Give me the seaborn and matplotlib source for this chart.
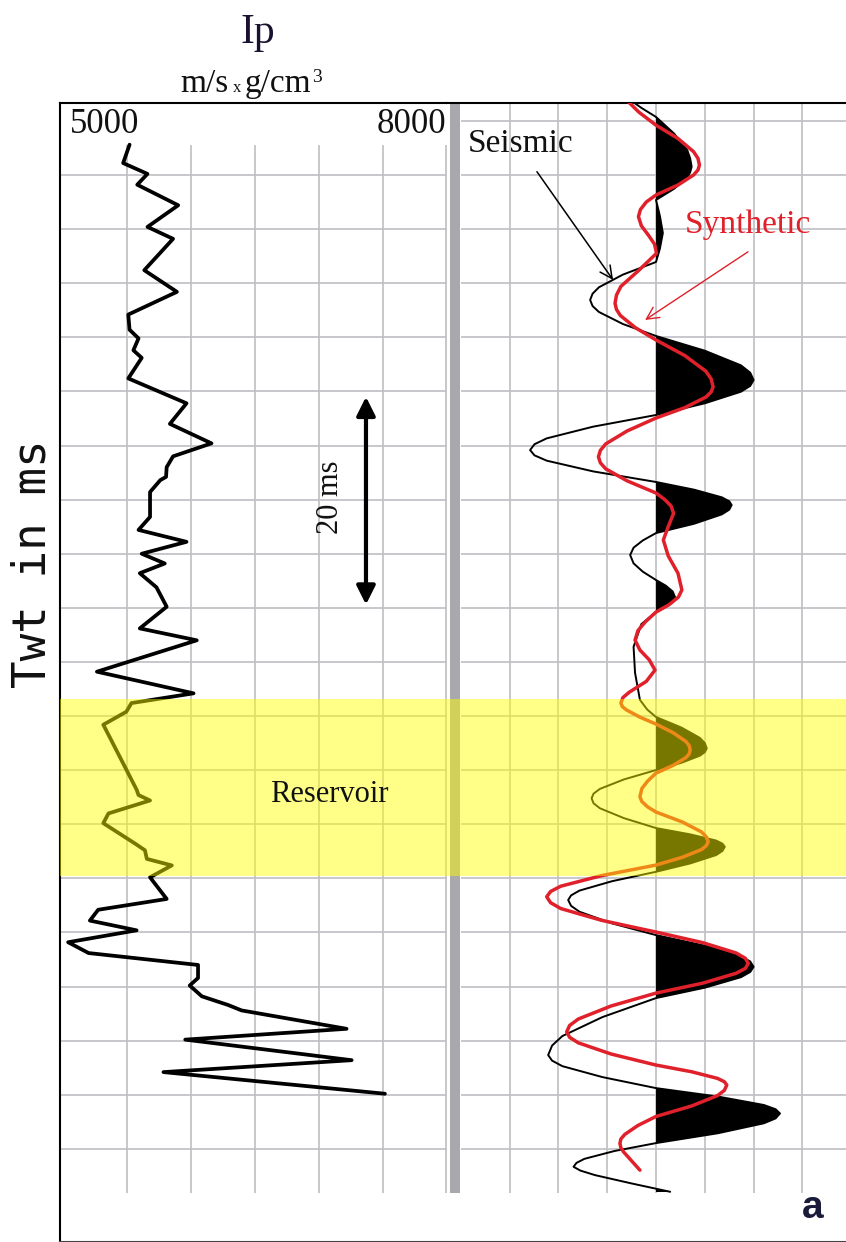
import numpy as np
import pandas as pd
import matplotlib
matplotlib.use("Agg")
import matplotlib.pyplot as plt
import seaborn as sns

# ---------------- data ----------------
# Acoustic impedance log (two-way time in ms, Ip in m/s x g/cm3)
ip_time = [7.2, 8.9, 9.9, 10.9, 12.8, 14.8, 15.9, 18.8, 20.8, 22.9,
           24.3, 25.1, 26.2, 26.9, 28.8, 31.1, 33.0, 34.8, 36.0, 37.0,
           37.9, 38.2, 39.3, 41.6, 42.8, 43.9, 45.0, 45.9, 46.8, 48.1,
           49.9, 51.9, 53.0, 55.9, 57.9, 58.8, 59.6, 60.8, 66.8, 67.3,
           67.8, 69.0, 69.9, 71.8, 72.4, 73.2, 73.8, 74.9, 76.9, 77.9,
           78.9, 79.8, 80.9, 81.9, 83.0, 84.2, 84.9, 85.9, 86.7, 87.2,
           88.9, 89.9, 91.8, 92.9, 94.9]
ip_vals = [5520, 5470, 5660, 5580, 5900, 5660, 5860, 5635, 5890, 5510,
           5520, 5590, 5550, 5615, 5510, 5965, 5835, 6160, 5860, 5810,
           5805, 5760, 5680, 5680, 5590, 5965, 5615, 5795, 5600, 5730,
           5810, 5600, 6045, 5265, 6020, 5535, 5495, 5315, 5575, 5590,
           5680, 5355, 5315, 5565, 5640, 5655, 5850, 5680, 5810, 5275,
           5210, 5575, 5040, 5200, 6055, 6055, 5990, 6085, 6290, 6395,
           7215, 5955, 7255, 5785, 7515]

# Seismic trace: (time ms, amplitude in grid units)
seis_points = [
    (3.0, -0.55), (3.8, -0.30), (4.64, 0.0), (6.17, 0.37), (7.70, 0.64),
    (8.47, 0.70), (9.23, 0.73), (9.75, 0.70), (10.26, 0.64), (11.28, 0.37),
    (12.31, 0.0), (13.8, 0.08), (15.36, 0.14), (16.8, 0.08), (18.04, 0.0),
    (19.21, -0.68), (20.38, -1.17), (20.97, -1.30), (21.55, -1.35), (22.11, -1.30),
    (22.66, -1.17), (23.77, -0.68), (24.88, 0.0), (26.24, 1.0), (27.59, 1.74),
    (28.27, 1.93), (28.95, 2.0), (29.49, 1.93), (30.03, 1.74), (31.10, 1.0),
    (32.18, 0.0), (33.26, -1.29), (34.34, -2.24), (34.88, -2.49), (35.42, -2.58),
    (35.91, -2.49), (36.40, -2.24), (37.39, -1.29), (38.37, 0.0), (39.08, 0.78),
    (39.79, 1.35), (40.15, 1.50), (40.5, 1.55), (40.93, 1.50), (41.36, 1.35),
    (42.23, 0.78), (43.09, 0.0), (43.77, -0.27), (44.44, -0.46), (45.12, -0.53),
    (45.89, -0.46), (46.66, -0.27), (47.43, 0.0), (47.95, 0.20), (48.48, 0.34),
    (49.0, 0.39), (49.46, 0.34), (49.93, 0.20), (50.39, 0.0), (51.5, -0.30),
    (53.6, -0.46), (56.0, -0.43), (58.5, -0.33), (59.4, -0.18), (60.09, 0.0),
    (61.06, 0.52), (62.02, 0.90), (62.5, 1.0), (62.99, 1.04), (63.33, 1.0),
    (63.66, 0.90), (64.32, 0.52), (64.99, 0.0), (65.86, -0.66), (66.73, -1.15),
    (67.17, -1.28), (67.6, -1.32), (68.06, -1.28), (68.52, -1.15), (69.43, -0.66),
    (70.35, 0.0), (70.93, 0.70), (71.50, 1.23), (71.79, 1.36), (72.08, 1.41),
    (72.47, 1.36), (72.85, 1.23), (73.62, 0.70), (74.39, 0.0), (75.26, -0.90),
    (76.13, -1.57), (76.57, -1.74), (77.0, -1.80), (77.54, -1.74), (78.08, -1.57),
    (79.16, -0.90), (80.24, 0.0), (81.22, 1.0), (82.19, 1.74), (82.68, 1.93),
    (83.17, 2.0), (83.65, 1.93), (84.13, 1.74), (85.10, 1.0), (86.06, 0.0),
    (87.82, -1.10), (89.57, -1.92), (90.45, -2.13), (91.33, -2.21), (91.84, -2.13),
    (92.35, -1.92), (93.36, -1.10), (94.38, 0.0), (95.16, 1.27), (95.94, 2.21),
    (96.33, 2.45), (96.72, 2.54), (97.18, 2.45), (97.63, 2.21), (98.55, 1.27),
    (99.46, 0.0), (100.19, -0.85), (100.92, -1.47), (101.29, -1.63), (101.65, -1.69),
    (102.0, -1.55), (102.42, -1.25), (103.19, -0.50), (103.96, 0.29),
]

# Synthetic trace: (time ms, amplitude in grid units)
syn_points = [
    (3.0, -0.62), (4.2, -0.35), (5.4, 0.0), (6.63, 0.45), (7.85, 0.77),
    (8.47, 0.86), (9.08, 0.89), (9.54, 0.86), (10.0, 0.77), (10.93, 0.45),
    (11.85, 0.0), (12.5, -0.20), (13.2, -0.32), (13.85, -0.36), (14.7, -0.30),
    (15.6, -0.15), (16.4, -0.03), (17.24, 0.01), (18.8, -0.35), (20.3, -0.72),
    (21.1, -0.81), (21.86, -0.84), (22.43, -0.81), (22.99, -0.73), (24.12, -0.42),
    (25.25, 0.0), (26.69, 0.59), (28.13, 1.02), (28.85, 1.13), (29.57, 1.17),
    (30.05, 1.13), (30.53, 1.02), (31.5, 0.59), (32.46, 0.0), (33.65, -0.59),
    (34.85, -1.03), (35.45, -1.14), (36.04, -1.18), (36.6, -1.14), (37.16, -1.03),
    (38.27, -0.59), (39.39, 0.0), (40.0, 0.18), (40.6, 0.31), (41.27, 0.36),
    (42.5, 0.25), (43.73, 0.15), (45.2, 0.25), (46.8, 0.45), (48.35, 0.53),
    (49.0, 0.46), (49.7, 0.27), (50.39, 0.0), (51.3, -0.22), (52.1, -0.37),
    (52.98, -0.43), (53.9, -0.33), (54.8, -0.14), (55.75, -0.02), (56.8, -0.20),
    (57.8, -0.55), (58.3, -0.68), (58.8, -0.72), (59.13, -0.69), (59.45, -0.60),
    (60.1, -0.33), (60.74, 0.0), (61.54, 0.35), (62.34, 0.61), (62.74, 0.68),
    (63.14, 0.70), (63.5, 0.68), (63.85, 0.61), (64.56, 0.35), (65.27, 0.0),
    (66.0, -0.17), (66.7, -0.29), (67.46, -0.33), (67.9, -0.29), (68.4, -0.17),
    (68.87, 0.0), (69.79, 0.54), (70.7, 0.93), (71.16, 1.03), (71.62, 1.07),
    (71.98, 1.03), (72.34, 0.93), (73.05, 0.54), (73.77, 0.0), (74.75, -1.12),
    (75.72, -1.95), (76.21, -2.16), (76.70, -2.24), (77.25, -2.16), (77.79, -1.95),
    (78.87, -1.12), (79.96, 0.0), (80.93, 0.95), (81.89, 1.64), (82.38, 1.83),
    (82.86, 1.89), (83.32, 1.83), (83.77, 1.64), (84.69, 0.95), (85.6, 0.0),
    (86.79, -0.92), (87.99, -1.59), (88.59, -1.77), (89.18, -1.83), (89.69, -1.77),
    (90.2, -1.59), (91.23, -0.92), (92.25, 0.0), (92.87, 0.73), (93.48, 1.26),
    (93.79, 1.40), (94.10, 1.45), (94.59, 1.40), (95.07, 1.26), (96.03, 0.73),
    (97.0, 0.0), (97.83, -0.37), (98.66, -0.64), (99.08, -0.72), (99.49, -0.74),
    (99.9, -0.72), (100.3, -0.66), (101.1, -0.50), (101.96, -0.33),
]

reservoir = (58.4, 74.8)
ip_ticklabels = ["5000", "8000"]

seis_t = [p[0] for p in seis_points]
seis_a = [p[1] for p in seis_points]
syn_t = [p[0] for p in syn_points]
syn_a = [p[1] for p in syn_points]

# ---------------- style ----------------
sns.set_theme(style="white")
plt.rcParams["font.family"] = ["Liberation Serif", "DejaVu Serif"]

W, H = 846, 1242
fig = plt.figure(figsize=(W / 100, H / 100), dpi=100)
fig.patch.set_facecolor("white")

T_TOP, T_BOT = 3.35, 108.6
GRID_END = 104.1
grid_col = "#bfbfc4"
red = "#e0202a"

axL = fig.add_axes([60 / W, 0, 387 / W, 1139 / H])
axR = fig.add_axes([447 / W, 0, 399 / W, 1139 / H])

for ax in (axL, axR):
    ax.set_facecolor("white")
    for s in ax.spines.values():
        s.set_linewidth(1.5)
        s.set_color("black")
    ax.spines["right"].set_visible(False)
    ax.spines["bottom"].set_color("#444444")
axR.spines["left"].set_visible(False)

XL = (4976.6, 8000)
XR = (-4.283, 3.893)

# grids
grid_t = np.arange(10, 101, 5)
axL.vlines([5500, 6000, 6500, 7000, 7500, 7990], 7.2, GRID_END,
           color=grid_col, lw=1.2, zorder=0.5)
axL.hlines(grid_t, XL[0], XL[1], color=grid_col, lw=1.2, zorder=0.5)
axR.vlines([-3, -2, -1, 0, 1, 2, 3], T_TOP, GRID_END, color=grid_col, lw=1.2, zorder=0.5)
axR.hlines(np.arange(5, 101, 5), -4.0, XR[1], color=grid_col, lw=1.2, zorder=0.5)
# gray separator
axR.fill_betweenx([T_TOP, GRID_END], -4.22, -4.016, color="#a8a8ad", lw=0, zorder=1)

# Ip log
df_ip = pd.DataFrame({"Ip": ip_vals, "t": ip_time})
sns.lineplot(data=df_ip, x="Ip", y="t", sort=False, estimator=None,
             color="black", linewidth=2.7, ax=axL, zorder=3,
             solid_joinstyle="round", solid_capstyle="round")

# seismic + synthetic
sa = np.array(seis_a)
st = np.array(seis_t)
axR.fill_betweenx(st, 0, sa, where=sa > 0, interpolate=True, color="black", lw=0, zorder=2)
df_s = pd.DataFrame({"a": seis_a, "t": seis_t})
sns.lineplot(data=df_s, x="a", y="t", sort=False, estimator=None,
             color="black", linewidth=1.4, ax=axR, zorder=3,
             solid_joinstyle="round", solid_capstyle="round")
df_y = pd.DataFrame({"a": syn_a, "t": syn_t})
sns.lineplot(data=df_y, x="a", y="t", sort=False, estimator=None,
             color=red, linewidth=2.5, ax=axR, zorder=4,
             solid_joinstyle="round", solid_capstyle="round")

for ax, xl in ((axL, XL), (axR, XR)):
    ax.set_xlim(*xl)
    ax.set_ylim(T_BOT, T_TOP)
    ax.set_xticks([])
    ax.set_yticks([])
    ax.set_xlabel("")
    ax.set_ylabel("")
    ax.axhspan(reservoir[0], reservoir[1], color="#ffff00", alpha=0.47, lw=0, zorder=5)

# 20 ms double arrow
axL.annotate("", xy=(7367, 30.5), xytext=(7367, 49.7),
             arrowprops=dict(arrowstyle="<|-|>", color="black", lw=3,
                             mutation_scale=28, shrinkA=0, shrinkB=0), zorder=6)

# label arrows
axR.annotate("", xy=(-0.88, 19.7), xytext=(-2.44, 9.7),
             arrowprops=dict(arrowstyle="->", color="black", lw=1.1,
                             mutation_scale=22, shrinkA=0, shrinkB=0), zorder=6)
axR.annotate("", xy=(-0.225, 23.4), xytext=(1.885, 17.1),
             arrowprops=dict(arrowstyle="->", color=red, lw=1.0,
                             mutation_scale=22, shrinkA=0, shrinkB=0), zorder=6)


def fx(px):
    return px / W


def fy(py):
    return 1 - py / H


fig.text(fx(258), fy(43), "Ip", fontsize=30, ha="center", va="baseline", color="#1a1030")
fig.text(fx(229), fy(92), "m/s", fontsize=24, ha="right", va="baseline", color="#111111")
fig.text(fx(237), fy(92), "x", fontsize=12, ha="center", va="baseline", color="#111111")
fig.text(fx(245), fy(92), "g/cm", fontsize=24, ha="left", va="baseline", color="#111111")
fig.text(fx(312), fy(82), "3", fontsize=14, ha="left", va="baseline", color="#111111")
fig.text(fx(70), fy(133), ip_ticklabels[0], fontsize=25, ha="left", va="baseline", color="#111111")
fig.text(fx(446), fy(133), ip_ticklabels[1], fontsize=25, ha="right", va="baseline", color="#111111")
fig.text(fx(468), fy(152), "Seismic", fontsize=24, ha="left", va="baseline", color="#111111")
fig.text(fx(685), fy(233), "Synthetic", fontsize=24, ha="left", va="baseline", color=red)
fig.text(fx(329), fy(802), "Reservoir", fontsize=22, ha="center", va="baseline", color="#111111")
fig.text(fx(330), fy(497), "20 ms", fontsize=22, rotation=90, ha="center", va="center", color="#111111")
fig.text(fx(33), fy(564), "Twt in ms", fontsize=33, rotation=90, ha="center", va="center",
         family=["DejaVu Sans Mono"], color="#111111")
fig.text(fx(813), fy(1218), "a", fontsize=28, fontweight="bold", ha="center", va="baseline",
         family=["Liberation Sans", "DejaVu Sans"], color="#1a1a3a")

fig.savefig("out.png", dpi=100)
